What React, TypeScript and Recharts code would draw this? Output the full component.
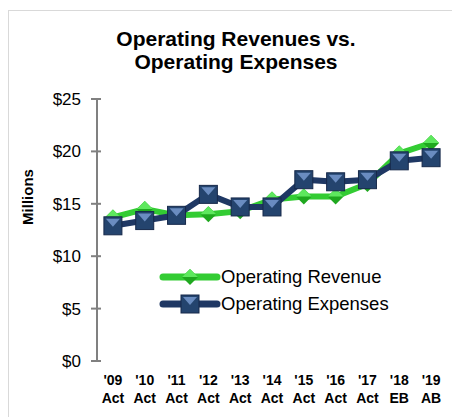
import { LineChart, Line, XAxis, YAxis } from "recharts";

const years = ["'09", "'10", "'11", "'12", "'13", "'14", "'15", "'16", "'17", "'18", "'19"];
const kinds = ["Act", "Act", "Act", "Act", "Act", "Act", "Act", "Act", "Act", "EB", "AB"];
const revenue = [13.7, 14.5, 13.9, 14.0, 14.3, 15.4, 15.7, 15.7, 16.9, 19.8, 20.8];
const expenses = [12.9, 13.4, 13.9, 15.9, 14.7, 14.7, 17.3, 17.1, 17.3, 19.1, 19.4];
const yTicks = [0, 5, 10, 15, 20, 25];

const rows = years.map((y, i) => ({ i, year: y, kind: kinds[i], revenue: revenue[i], expenses: expenses[i] }));
const labelTicks = years.map((_, i) => i);
const boundTicks = [...years.map((_, i) => i - 0.5), years.length - 0.5];

const GREEN = "#33cc33";
const NAVY = "#1f3864";
const FONT = "Liberation Sans, Arial, sans-serif";

const Diamond = (p: any) => {
  const { cx, cy } = p;
  if (cx == null || cy == null) return null;
  const r = 8;
  return (
    <g>
      <path d={`M${cx},${cy - r} L${cx + r},${cy} L${cx},${cy + r} L${cx - r},${cy} Z`} fill="#1fa81f" />
      <path d={`M${cx},${cy - r} L${cx + r},${cy} L${cx - r},${cy} Z`} fill="#5ee85e" />
    </g>
  );
};

const Square = (p: any) => {
  const { cx, cy } = p;
  if (cx == null || cy == null) return null;
  const r = 9;
  return (
    <g>
      <rect x={cx - r} y={cy - r} width={2 * r} height={2 * r} fill="#24446e" stroke="#16294a" strokeWidth={1} />
      <path d={`M${cx - r + 2},${cy - r + 2} L${cx + r - 2},${cy - r + 2} L${cx},${cy + 1} Z`} fill="#6a8cc0" />
    </g>
  );
};

const XLabel = (p: any) => {
  const { x, y, payload } = p;
  const i = payload.value;
  return (
    <text x={x} y={y} textAnchor="middle" fontFamily={FONT} fontWeight="bold" fontSize={14} fill="#000">
      <tspan x={x} dy={16}>{years[i]}</tspan>
      <tspan x={x} dy={18}>{kinds[i]}</tspan>
    </text>
  );
};

const legendItems = [
  { name: "Operating Revenue", color: GREEN, Dot: Diamond },
  { name: "Operating Expenses", color: NAVY, Dot: Square },
];

export default function App() {
  return (
    <div style={{ position: "absolute", left: 0, top: 0, width: 452, height: 417, background: "#fff", overflow: "hidden" }}>
      <div style={{ position: "absolute", left: 8, top: 10, width: 470, height: 420, border: "1px solid #d9d9d9" }} />
      <div style={{ position: "absolute", left: 0, top: 27, width: 472, textAlign: "center", fontFamily: FONT, fontWeight: "bold", fontSize: 21, lineHeight: "23px" }}>
        Operating Revenues vs.<br />Operating Expenses
      </div>
      <div style={{ position: "absolute", left: 0, top: 0 }}>
        <LineChart width={452} height={417} data={rows} margin={{ top: 99, right: 5, left: 0, bottom: 14 }}>
          <XAxis xAxisId="bounds" type="number" dataKey="i" domain={[-0.5, 10.5]} allowDataOverflow ticks={boundTicks}
            tick={false} height={0} axisLine={{ stroke: "#808080", strokeWidth: 2 }}
            tickLine={{ stroke: "#808080", strokeWidth: 2, transform: "translate(0,-6)" }} tickSize={11} />
          <XAxis xAxisId="main" type="number" dataKey="i" domain={[-0.5, 10.5]} allowDataOverflow ticks={labelTicks}
            axisLine={false} tickLine={false} height={42} interval={0} tick={<XLabel />} />
          <YAxis type="number" domain={[0, 25]} ticks={yTicks} width={97} interval={0} tickMargin={6}
            axisLine={{ stroke: "#808080", strokeWidth: 2 }}
            tickLine={{ stroke: "#808080", strokeWidth: 2, transform: "translate(4,0)" }} tickSize={10}
            tick={{ fill: "#000", fontSize: 17, fontFamily: FONT }} tickFormatter={(v: number) => `$${v}`} />
          <Line xAxisId="main" dataKey="revenue" name="Operating Revenue" stroke={GREEN} strokeWidth={6} dot={<Diamond />} activeDot={false} isAnimationActive={false} />
          <Line xAxisId="main" dataKey="expenses" name="Operating Expenses" stroke={NAVY} strokeWidth={6} dot={<Square />} activeDot={false} isAnimationActive={false} />
        </LineChart>
      </div>
      <div style={{ position: "absolute", left: 159, top: 263, fontFamily: FONT, fontSize: 18.5, color: "#000" }}>
        {legendItems.map(({ name, color, Dot }) => (
          <div key={name} style={{ display: "flex", alignItems: "center", height: 27 }}>
            <svg width={62} height={24}>
              <line x1={4} y1={12} x2={58} y2={12} stroke={color} strokeWidth={7} strokeLinecap="round" />
              <Dot cx={31} cy={12} />
            </svg>
            <span style={{ marginLeft: 0 }}>{name}</span>
          </div>
        ))}
      </div>
      <div style={{ position: "absolute", left: 27, top: 197, transform: "translate(-50%, -50%) rotate(-90deg)", fontFamily: FONT, fontWeight: "bold", fontSize: 15 }}>
        Millions
      </div>
    </div>
  );
}
